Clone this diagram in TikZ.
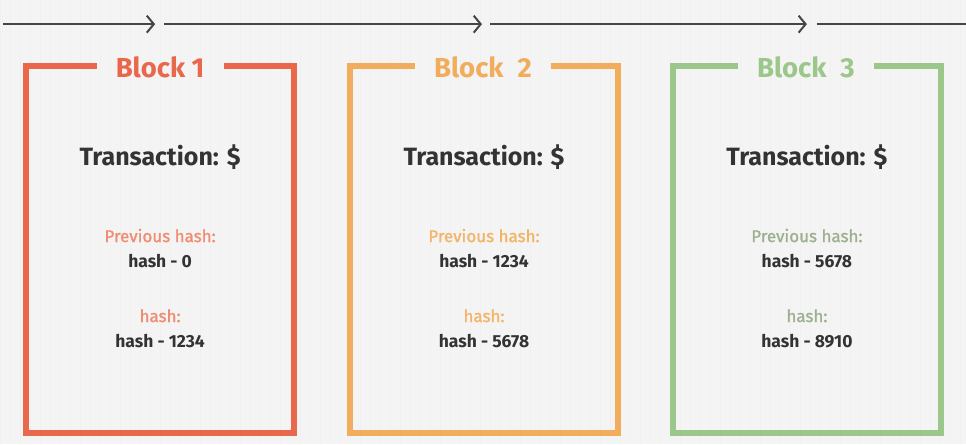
\documentclass[tikz,border=0pt]{standalone}
\usepackage{fontspec}
\setmainfont{Fira Sans}
\newfontfamily\labelfont{Fira Sans}[FakeBold=1.2]
\usepackage{tikz}
\usetikzlibrary{arrows.meta}
\definecolor{bggray}{HTML}{F4F4F4}
\definecolor{gridgray}{HTML}{F0F0F0}
\definecolor{linkgray}{HTML}{454545}
\definecolor{textdark}{HTML}{333333}
\definecolor{redblock}{HTML}{E9674A}
\definecolor{redlabel}{HTML}{F08C72}
\definecolor{orangeblock}{HTML}{F2AD5C}
\definecolor{orangelabel}{HTML}{F3B466}
\definecolor{greenblock}{HTML}{9CC78A}
\definecolor{greenlabel}{HTML}{9DB08F}
\tikzset{>={Straight Barb[length=7pt,width=17pt,line width=2pt]}}

\begin{document}
\begin{tikzpicture}[x=1pt, y=-1pt,
    blocktitle/.style={font=\fontsize{27.5}{30}\selectfont\bfseries, inner xsep=19pt, inner ysep=0pt, anchor=base},
    trans/.style={font=\fontsize{25}{28}\selectfont\bfseries, text=textdark, anchor=base},
    hashlabel/.style={font=\fontsize{17}{20}\selectfont\labelfont, anchor=base},
    hashvalue/.style={font=\fontsize{17.5}{20}\selectfont\bfseries, text=textdark, anchor=base},
    frame/.style={line width=6pt},
    link/.style={->, line width=2pt, linkgray}]
      % background
      \fill[bggray] (0,0) rectangle (966,444);
      \draw[gridgray, line width=0.3pt, step=10] (0,0) grid (966,444);
      \useasboundingbox (0,0) rectangle (966,444);
      % chain links
      \coordinate (l0) at (3,24);
      \coordinate (l1) at (155,24);
      \coordinate (l2) at (164,24);
      \coordinate (l3) at (482,24);
      \coordinate (l4) at (490,24);
      \coordinate (l5) at (807,24);
      \coordinate (l6) at (817,24);
      \coordinate (l7) at (966,24);
      \draw[link] (l0) -- (l1);
      \draw[link] (l2) -- (l3);
      \draw[link] (l4) -- (l5);
      \draw[link, -] (l6) -- (l7);
      % block 1
      \node[blocktitle, text=redblock] (b1) at (160,77) {Block 1};
      \draw[frame, redblock] (b1.west |- 0,66) -- (26,66) -- (26,433) -- (294,433) -- (294,66) -- (b1.east |- 0,66);
      \node[trans] (t1) at (160,165) {Transaction: \$};
      \node[hashlabel, text=redlabel] (p1) at (160,242) {Previous hash:};
      \node[hashvalue] (ph1) at (160,267) {hash - 0};
      \node[hashlabel, text=redlabel] (h1) at (160,322) {hash:};
      \node[hashvalue] (hv1) at (160,347) {hash - 1234};
      % block 2
      \node[blocktitle, text=orangeblock] (b2) at (483,77) {Block\hspace{14pt}2};
      \draw[frame, orangeblock] (b2.west |- 0,66) -- (350,66) -- (350,433) -- (618,433) -- (618,66) -- (b2.east |- 0,66);
      \node[trans] (t2) at (484,165) {Transaction: \$};
      \node[hashlabel, text=orangelabel] (p2) at (484,242) {Previous hash:};
      \node[hashvalue] (ph2) at (484,267) {hash - 1234};
      \node[hashlabel, text=orangelabel] (h2) at (484,322) {hash:};
      \node[hashvalue] (hv2) at (484,347) {hash - 5678};
      % block 3
      \node[blocktitle, text=greenblock] (b3) at (806,77) {Block\hspace{14pt}3};
      \draw[frame, greenblock] (b3.west |- 0,66) -- (673,66) -- (673,433) -- (941,433) -- (941,66) -- (b3.east |- 0,66);
      \node[trans] (t3) at (807,165) {Transaction: \$};
      \node[hashlabel, text=greenlabel] (p3) at (807,242) {Previous hash:};
      \node[hashvalue] (ph3) at (807,267) {hash - 5678};
      \node[hashlabel, text=greenlabel] (h3) at (807,322) {hash:};
      \node[hashvalue] (hv3) at (807,347) {hash - 8910};
\end{tikzpicture}
\end{document}
